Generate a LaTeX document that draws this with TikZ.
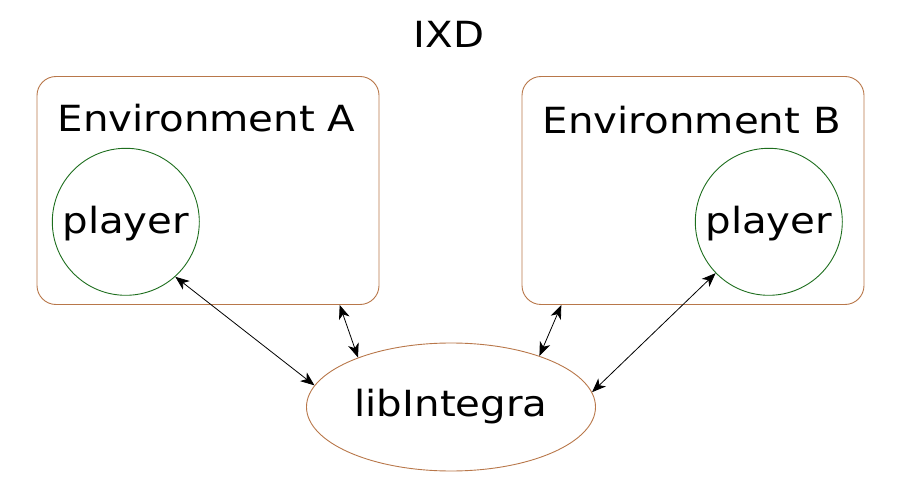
\documentclass[tikz,border=0pt]{standalone}
\usepackage{fontspec}
\setmainfont{DejaVu Sans}[FakeStretch=1.12]
\usetikzlibrary{shapes, arrows.meta}

\definecolor{envcol}{HTML}{B8774A}
\definecolor{plcol}{HTML}{1E6E1E}

\begin{document}
\begin{tikzpicture}[x=1pt, y=-1pt, line width=0.9pt,
	font=\fontsize{36}{43}\selectfont]
\tikzstyle{env_box}=[rectangle, draw=envcol, rounded corners=19pt,
	minimum width=342pt, minimum height=228pt, inner sep=0pt]
\tikzstyle{pl_node}=[circle, draw=plcol, minimum size=147pt, inner sep=0pt,
	text height=23pt, text depth=0pt]
\tikzstyle{lib_node}=[ellipse, draw=envcol, minimum width=289pt,
	minimum height=128pt, inner sep=0pt, text height=19.4pt, text depth=0pt]
\tikzstyle{link}=[{Stealth[length=14pt,width=11pt,inset=4pt]}-{Stealth[length=14pt,width=11pt,inset=4pt]},
	line width=0.8pt]

\useasboundingbox (0,0) rectangle (922,497);

\node at (449,47.5) [anchor=base] (title) {IXD};

\node at (208,190.5) [env_box] (envA) {};
\node at (206.5,132) [anchor=base] (envAlabel) {Environment A};
\node at (125.8,221.8) [pl_node] (playerA) {player};

\node at (693,190.5) [env_box] (envB) {};
\node at (691.7,133.3) [anchor=base] (envBlabel) {Environment B};
\node at (768.8,221.8) [pl_node] (playerB) {player};

\node at (451,407) [lib_node] (lib) {libIntegra};

\draw[link] (playerA.-48) -- (lib.171);
\draw[link] (envA.-41.7) -- (lib.152.3);
\draw[link] (envB.-139.8) -- (lib.30.4);
\draw[link] (playerB.224.7) -- (lib.6.25);

\end{tikzpicture}
\end{document}
